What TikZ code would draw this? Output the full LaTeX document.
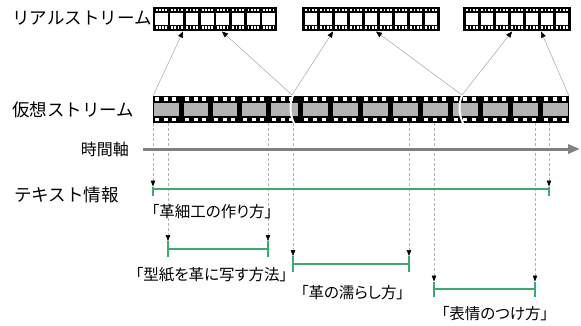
\documentclass[tikz,border=0pt]{standalone}
\usepackage{fontspec}
\setmainfont{Noto Sans CJK JP}
\newfontfamily\paltfont{Noto Sans CJK JP}[RawFeature=+palt]
\usetikzlibrary{arrows.meta}
\definecolor{brgreen}{RGB}{60,170,110}
\definecolor{holegray}{RGB}{179,179,179}
\newcommand\realstrip[3]{%
  \fill[black] (#1,6.5) rectangle ({#1+#2*#3+2.5},30.5);
  \foreach \k in {1,...,#2} {
    \pgfmathsetmacro\fs{#1+2.5+(\k-1)*#3}
    \fill[white] (\fs,13) rectangle ({\fs+#3-2.5},24.5);
    \foreach \j in {0,...,3} {
      \fill[white] ({\fs+0.8+\j*3.2},8.8) rectangle ({\fs+2.6+\j*3.2},11.3);
      \fill[white] ({\fs+0.8+\j*3.2},26.3) rectangle ({\fs+2.6+\j*3.2},28.7);
    }
  }%
}
\begin{document}
\begin{tikzpicture}[x=1pt,y=-1pt,
  bigtext/.style={inner sep=0pt,font=\fontsize{17.5}{20}\selectfont},
  labtext/.style={inner sep=0pt,font=\paltfont\fontsize{15.5}{18}\selectfont},
  maparrow/.style={draw=gray!70,line width=0.5pt,-{Triangle[length=6pt,width=5pt,color=black]}},
  dropline/.style={draw=gray!60,line width=0.5pt,dash pattern=on 3pt off 2pt,-{Triangle[length=6pt,width=4.5pt,color=black]}},
  bracket/.style={draw=brgreen,line width=1.1pt}]
\useasboundingbox (0,0) rectangle (581,325);

% labels on the left
\node[bigtext,anchor=west] (real) at (12,18.5) {リアルストリーム};
\node[bigtext,anchor=west] (virt) at (12,110) {仮想ストリーム};
\node[bigtext,anchor=west] (text) at (14,194.5) {テキスト情報};
\node[inner sep=0pt,font=\fontsize{16}{18}\selectfont,anchor=east] (axis) at (129,149) {時間軸};

% real streams
\realstrip{152.5}{8}{15.3}
\realstrip{302}{9}{15.0}
\realstrip{463}{7}{15.0}

% virtual stream
\fill[black] (153,96) rectangle (569,122.5);
\fill[holegray] (154,103) rectangle (568,115.5);
\foreach \s in {153.5,183.5,212.5,241.5,270.5,303,333,363,393,423,453,483,513,543} {
  \foreach \d in {1,10,18.5} {
    \fill[white] ({\s+\d},97.3) rectangle ({\s+\d+4},100.7);
    \fill[white] ({\s+\d},117.7) rectangle ({\s+\d+4},121);
  }
}
\foreach \c in {181,210,239,268,300.5,330.5,360.5,390.5,420.5,450.5,480.5,510.5,540.5} {
  \fill[black] ({\c-2.5},96) rectangle ({\c+2.5},122.5);
}
\fill[white] (569,96) rectangle (572,123);
\draw[white,line width=2pt] (293,95.5) .. controls (289.5,104) and (289.5,114) .. (294,123);
\draw[white,line width=2pt] (462,95.5) .. controls (458.5,104) and (458.5,114) .. (463,123);

% mapping arrows
\coordinate (v0) at (153,96);
\coordinate (b1) at (292,95);
\coordinate (b2) at (462,95);
\coordinate (v1) at (569,96);
\coordinate (r1a) at (183,31.5);
\coordinate (r1b) at (222,31.5);
\coordinate (r2a) at (333,31.5);
\coordinate (r2b) at (376,31.5);
\coordinate (r3a) at (512,31.5);
\coordinate (r3b) at (541,31.5);
\draw[maparrow] (v0) -- (r1a);
\draw[maparrow] (b1) -- (r1b);
\draw[maparrow] (b1) -- (r2a);
\draw[maparrow] (b2) -- (r2b);
\draw[maparrow] (b2) -- (r3a);
\draw[maparrow] (v1) -- (r3b);

% drop lines
\foreach \n/\x/\y in {1/153/186.5, 2/168/241, 3/268/241, 4/293/256, 5/549/186.5, 6/409/256, 7/434/281.5, 8/535/281.5} {
  \coordinate (top\n) at (\x,123);
  \coordinate (tip\n) at (\x,\y);
  \draw[dropline] (top\n) -- (tip\n);
}

% time axis
\coordinate (ts) at (143,149);
\coordinate (te) at (580,149);
\draw[draw=gray,line width=3pt,-{Triangle[length=12pt,width=9pt,color=gray]}] (ts) -- (te);

% brackets
\draw[bracket] (tip1) -- (153,196) (153,189) -- (549,189) (tip5) -- (549,196);
\draw[bracket] (tip2) -- (168,257) (168,249) -- (268,249) (tip3) -- (268,257);
\draw[bracket] (tip4) -- (293,272) (293,264) -- (409,264) (tip6) -- (409,272);
\draw[bracket] (tip7) -- (434,297) (434,289) -- (535,289) (tip8) -- (535,297);

% bracket labels
\node[labtext] (l1) at (212,212) {「革細工の作り方」};
\node[labtext] (l2) at (211.5,275) {「型紙を革に写す方法」};
\node[labtext] (l3) at (352.5,293) {「革の濡らし方」};
\node[labtext] (l4) at (495,314) {「表情のつけ方」};
\end{tikzpicture}
\end{document}
